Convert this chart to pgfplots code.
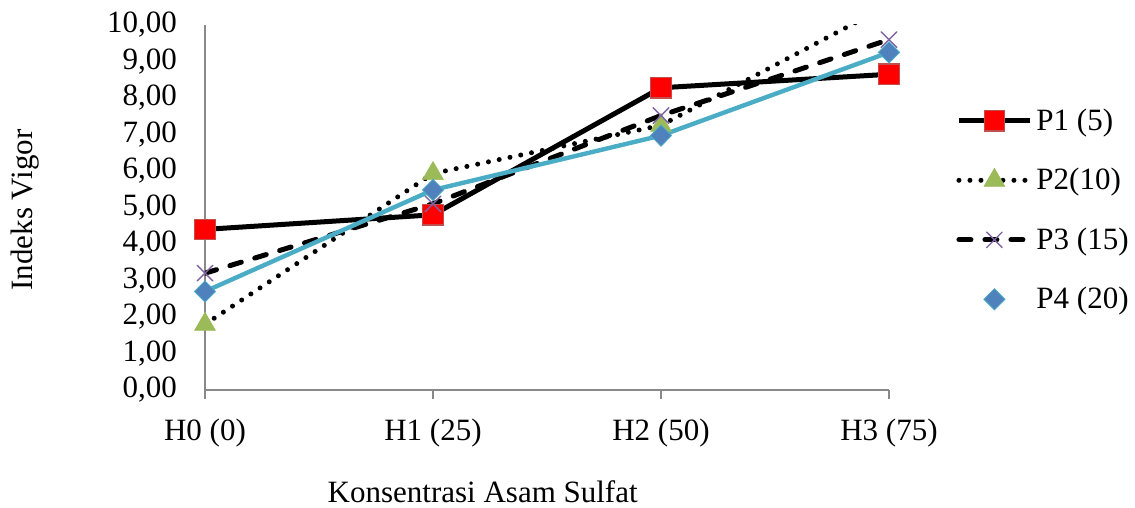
\documentclass[border=0pt]{standalone}
\usepackage{fontspec}
\setmainfont{Liberation Serif}
\usepackage{pgfplots}
\pgfplotsset{compat=1.18}
\definecolor{axgray}{HTML}{898989}
\definecolor{pred}{HTML}{FF0000}
\definecolor{predb}{HTML}{C0504D}
\definecolor{pgreen}{HTML}{9BBB59}
\definecolor{ppurple}{HTML}{8064A2}
\definecolor{pblue}{HTML}{4F81BD}
\definecolor{pteal}{HTML}{4BACC6}
\newcommand{\fs}{\fontsize{15.5}{18.5}\selectfont}
\pgfplotsset{
  linelegend/.style={legend image code/.code={
    \draw[##1] (0pt,0pt) -- (35.5pt,0pt);
    \path[##1, solid] plot coordinates {(17.75pt,0pt)};}},
  marklegend/.style={legend image code/.code={
    \path[##1] plot coordinates {(17.75pt,0pt)};}},
}
\begin{document}
\begin{tikzpicture}
\path[use as bounding box] (-102.5pt,-59pt) rectangle (465pt,195pt);
\begin{axis}[
  at={(0,0)}, anchor=south west,
  scale only axis, width=342pt, height=182.5pt,
  xmin=0, xmax=3, ymin=0, ymax=10,
  xtick={0,1,2,3},
  xticklabels={H0 (0), H1 (25), H2 (50), H3 (75)},
  ytick={0,1,...,10},
  axis lines*=left,
  axis line style={axgray, line width=1pt},
  tick align=outside,
  major tick length=4.5pt,
  xtick style={axgray, line width=1pt},
  ytick style={draw=none},
  tick label style={font=\fs, black},
  yticklabel style={xshift=-6pt},
  xticklabel style={yshift=-6.5pt},
  /pgf/number format/.cd, fixed, fixed zerofill, precision=2, use comma, assume math mode=true,
  /pgfplots/.cd,
  xlabel={Konsentrasi Asam Sulfat},
  ylabel={Indeks Vigor},
  label style={font=\fs},
  xlabel style={at={(axis description cs:0.406,-0.279)}, anchor=center},
  ylabel style={at={(axis description cs:-0.263,0.493)}, anchor=center},
  legend style={at={(axis description cs:1.098,0.493)}, anchor=west, draw=none, fill=none,
    font=\fs, row sep=13.5pt, inner xsep=0pt, inner ysep=0pt,
    /tikz/every even column/.append style={column sep=0pt}},
  legend cell align=left,
  linelegend,
]
\addplot[black, line width=2.5pt, mark=square*, mark size=5.1pt,
  mark options={solid, fill=pred, draw=predb, line width=0.6pt}]
  coordinates {(0,4.40) (1,4.80) (2,8.28) (3,8.65)};
\addlegendentry{P1 (5)}
\addplot[black, line width=2.5pt, line cap=round, dash pattern=on 0pt off 5.5pt,
  mark=triangle*, mark size=6pt, mark indices={1,2,3},
  mark options={solid, fill=pgreen, draw=pgreen, line width=0.3pt}]
  coordinates {(0,1.80) (1,5.93) (2,7.25) (3,10.55)};
\addlegendentry{P2(10)}
\addplot[black, line width=2.5pt, line cap=round, dash pattern=on 6pt off 7pt,
  mark=x, mark size=5.5pt,
  mark options={solid, draw=ppurple, line width=0.7pt}]
  coordinates {(0,3.20) (1,5.10) (2,7.52) (3,9.60)};
\addlegendentry{P3 (15)}
\addplot[pteal, line width=2.2pt,
  mark=diamond*, mark size=5.3pt,
  mark options={solid, fill=pblue, draw=pteal, line width=0.4pt, xscale=1.33},
  marklegend]
  coordinates {(0,2.70) (1,5.48) (2,6.97) (3,9.25)};
\addlegendentry{P4 (20)}
\end{axis}
\end{tikzpicture}
\end{document}
